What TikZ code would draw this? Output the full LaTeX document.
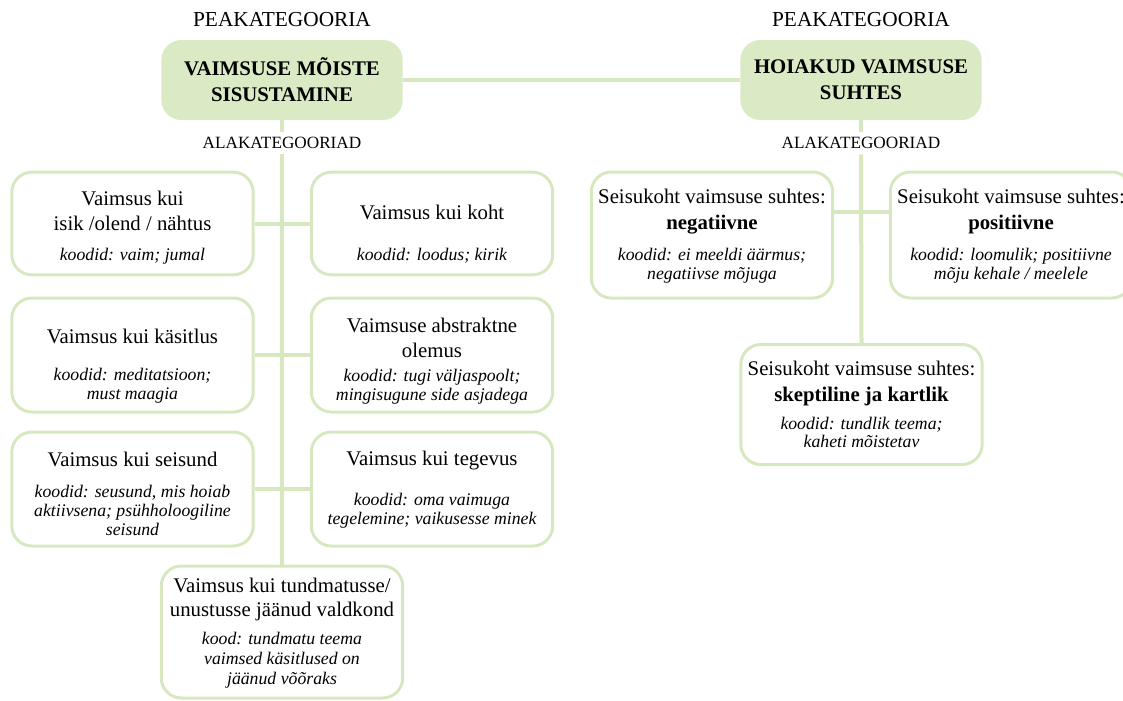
\documentclass[tikz,border=0pt]{standalone}
\usepackage{fontspec}
\setmainfont{Liberation Serif}
\definecolor{leaf}{RGB}{215,232,193}
\definecolor{leaffill}{RGB}{217,234,197}
\newcommand{\koodid}[1]{{\fontsize{13.3}{14}\selectfont\itshape #1}}

\begin{document}
\begin{tikzpicture}[x=0.75pt,y=-0.75pt,
  every node/.style={inner sep=0pt},
  catbox/.style={draw=leaf,line width=2.25pt,rounded corners=15pt,minimum width=181pt,minimum height=#1},
  headbox/.style={fill=leaffill,rounded corners=15pt,minimum width=181pt,minimum height=60pt,
    align=center,font=\fontsize{15.6}{19.5}\selectfont\bfseries},
  txt/.style={align=center,font=\fontsize{15.6}{18.5}\selectfont},
  head/.style={font=\fontsize{16}{18}\selectfont},
  tag/.style={font=\fontsize{12.9}{14}\selectfont,inner sep=4pt},
  link/.style={draw=leaf,line width=3pt}]
\useasboundingbox (0,0) rectangle (1123,700);
\clip (0,0) rectangle (1123,700);
\node[head] (hdL) at (282,20) {PEAKATEGOORIA};
\node[head] (hdR) at (861,20) {PEAKATEGOORIA};
\node[headbox] (tl) at (282,80) {VAIMSUSE MÕISTE\\SISUSTAMINE};
\node[headbox] (tr) at (861,80) {HOIAKUD VAIMSUSE\\SUHTES};
\node[tag] (tagL) at (282,143) {ALAKATEGOORIAD};
\node[tag] (tagR) at (861,143) {ALAKATEGOORIAD};
\node[catbox=77pt] (r1l) at (132.5,223.5) {};
\node[catbox=77pt] (r1r) at (432,223.5) {};
\node[catbox=85.5pt] (r2l) at (132.5,355) {};
\node[catbox=85.5pt] (r2r) at (432,355) {};
\node[catbox=85.5pt] (r3l) at (132.5,489) {};
\node[catbox=85.5pt] (r3r) at (432,489) {};
\node[catbox=99pt] (bot) at (282,632) {};
\node[catbox=94.5pt] (neg) at (712,235) {};
\node[catbox=94.5pt] (pos) at (1011,235) {};
\node[catbox=90pt] (sk) at (861.5,404.5) {};
\node[txt] (r1lt) at (132.5,228) {Vaimsus kui\\isik /olend / nähtus\\[4pt]\koodid{koodid: vaim; jumal}};
\node[txt] (r1rt) at (432,234.5) {Vaimsus kui koht\\[12.25pt]\koodid{koodid: loodus; kirik}};
\node[txt] (r2lt) at (132.5,366) {Vaimsus kui käsitlus\\[9.25pt]\koodid{koodid: meditatsioon;}\\[-4.25pt]\koodid{must maagia}};
\node[txt] (r2rt) at (432,361) {Vaimsuse abstraktne\\olemus\\[-0.5pt]\koodid{koodid: tugi väljaspoolt;}\\[-4.25pt]\koodid{mingisugune side asjadega}};
\node[txt] (r3lt) at (132.5,493.5) {Vaimsus kui seisund\\[4.75pt]\koodid{koodid: seusund, mis hoiab}\\[-4.25pt]\koodid{aktiivsena; psühholoogiline}\\[-4.25pt]\koodid{seisund}};
\node[txt] (r3rt) at (432,489.5) {Vaimsus kui tegevus\\[11.5pt]\koodid{koodid: oma vaimuga}\\[-4.25pt]\koodid{tegelemine; vaikusesse minek}};
\node[txt] (bott) at (282,633) {Vaimsus kui tundmatusse/\\unustusse jäänud valdkond\\[2.5pt]\koodid{kood: tundmatu teema}\\[-3.5pt]\koodid{vaimsed käsitlused on}\\[-3.5pt]\koodid{jäänud võõraks}};
\node[txt] (negt) at (712,236) {Seisukoht vaimsuse suhtes:\\[1pt]\textbf{negatiivne}\\[4.75pt]\koodid{koodid: ei meeldi äärmus;}\\[-4.25pt]\koodid{negatiivse mõjuga}};
\node[txt] (post) at (1011,236) {Seisukoht vaimsuse suhtes:\\[1pt]\textbf{positiivne}\\[4.75pt]\koodid{koodid: loomulik; positiivne}\\[-4.25pt]\koodid{mõju kehale / meelele}};
\node[txt] (skt) at (861.5,404.5) {Seisukoht vaimsuse suhtes:\\[1.5pt]\textbf{skeptiline ja kartlik}\\[2.5pt]\koodid{koodid: tundlik teema;}\\[-5pt]\koodid{kaheti mõistetav}};
\coordinate (rj) at (861,212);
\draw[link] (tl.east) -- (tr.west);
\draw[link] (tl.south) -- (tagL.north);
\draw[link] (tagL.south) -- (bot.north);
\draw[link] (r1l.east) -- (r1r.west);
\draw[link] (r2l.east) -- (r2r.west);
\draw[link] (r3l.east) -- (r3r.west);
\draw[link] (tr.south) -- (tagR.north);
\draw[link] (tagR.south) -- (sk.north);
\draw[link] (rj -| neg.east) -- (rj -| pos.west);
\end{tikzpicture}
\end{document}
